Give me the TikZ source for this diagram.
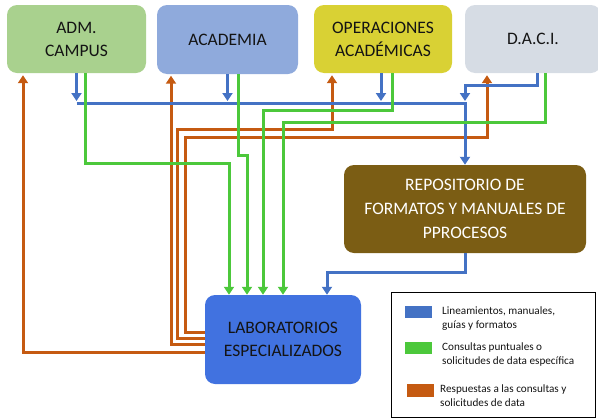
\documentclass[tikz,border=0pt]{standalone}
\usepackage{fontspec}
\setmainfont{Carlito}
\usetikzlibrary{arrows.meta,calc}
\definecolor{cadm}{HTML}{A9D18E}
\definecolor{caca}{HTML}{8FAADC}
\definecolor{cope}{HTML}{D9D134}
\definecolor{cdaci}{HTML}{D6DCE4}
\definecolor{crepo}{HTML}{7B5D14}
\definecolor{clab}{HTML}{4172E0}
\definecolor{lblue}{HTML}{4472C4}
\definecolor{lgreen}{HTML}{4CC83B}
\definecolor{lorange}{HTML}{C55A11}
\definecolor{txt}{HTML}{141414}
\tikzset{
  box/.style={rounded corners=10pt, align=center, text=txt, inner sep=0pt,
    font=\fontsize{17.5}{23}\selectfont},
  bl/.style={draw=lblue, line width=3pt},
  gr/.style={draw=lgreen, line width=3pt},
  orng/.style={draw=lorange, line width=3pt},
  tip/.style={-{Triangle[length=8pt,width=10pt]}},
  legtext/.style={anchor=west, align=left, inner sep=0pt, text=txt,
    font=\fontsize{11.2}{14}\selectfont},
}
\begin{document}
\begin{tikzpicture}[x=1pt,y=-1pt]
\useasboundingbox (0,0) rectangle (598,418);
% boxes
\node[box, fill=cadm, minimum width=139pt, minimum height=68pt] (adm) at (76.5,39) {ADM.\\CAMPUS};
\node[box, fill=caca, minimum width=141pt, minimum height=69pt] (aca) at (227.5,39.5) {ACADEMIA};
\node[box, fill=cope, minimum width=138pt, minimum height=68pt] (ope) at (383,39) {OPERACIONES\\ACADÉMICAS};
\node[box, fill=cdaci, minimum width=136pt, minimum height=68pt] (daci) at (533,39) {D.A.C.I.};
\node[box, fill=crepo, text=white, minimum width=242pt, minimum height=88pt,
  font=\fontsize{17.5}{24}\selectfont] (repo) at (465,209)
  {REPOSITORIO DE\\FORMATOS Y MANUALES DE\\PPROCESOS};
\node[box, fill=clab, minimum width=156pt, minimum height=89pt] (lab) at (283,339.5) {LABORATORIOS\\ESPECIALIZADOS};

% orange: responses
\draw[orng, tip] ($(lab.west)+(0,12.5)$) -| ($(adm.south)+(-53.5,2)$);
\draw[orng, tip] ($(lab.west)+(0,4.5)$) -| ($(aca.south)+(-56.5,1.5)$);
\draw[orng, tip] ($(lab.west)+(0,-1.5)$) -| (177,129) -| ($(ope.south)+(-51,2)$);
\draw[orng, tip] ($(lab.west)+(0,-7.5)$) -| (185,137) -| ($(daci.south)+(-46,2)$);

% blue: guidelines
\coordinate (bus1) at (76.5,103);
\coordinate (bus2) at (465,103);
\draw[bl] (bus1) -- (bus2) -- ($(repo.north)+(0,-8)$);
\draw[bl, tip] (bus2) -- (repo.north);
\draw[bl, tip, shorten >=2pt] (adm.south) -- (bus1);
\draw[bl, tip, shorten >=2pt] (aca.south) -- (aca.south |- bus1);
\draw[bl, tip, shorten >=2pt] ($(ope.south)+(-2,0)$) -- (381,103);
\draw[bl, tip, shorten >=2pt] ($(daci.south)+(4,0)$) |- (465,85) -- (bus2);
\draw[bl, tip] (repo.south) |- (327,272) -- ($(lab.north)+(44,0)$);

% green: queries
\draw[gr, tip] ($(adm.south)+(8.5,0)$) |- (229,163) -- ($(lab.north)+(-54,0)$);
\draw[gr, tip] ($(aca.south)+(10.5,0)$) |- (247,155) -- ($(lab.north)+(-36,0)$);
\draw[gr, tip] ($(ope.south)+(9,0)$) |- (263,110) -- ($(lab.north)+(-20,0)$);
\draw[gr, tip] ($(daci.south)+(12,0)$) |- (283,122) -- (lab.north);

% legend
\node[draw=black, line width=1pt, minimum width=204pt, minimum height=125pt, inner sep=0pt] (leg) at (493,355) {};
\node[fill=lblue, minimum width=27pt, minimum height=12pt, inner sep=0pt] (k1) at (418.5,312) {};
\node[fill=lgreen, minimum width=27pt, minimum height=12pt, inner sep=0pt] (k2) at (418.5,348) {};
\node[fill=lorange, minimum width=27pt, minimum height=13pt, inner sep=0pt] (k3) at (420.5,390.5) {};
\node[legtext] (t1) at (442,318.5) {Lineamientos, manuales,\\guías y formatos};
\node[legtext] (t2) at (442,355) {Consultas puntuales o\\solicitudes de data específica};
\node[legtext] (t3) at (440,396) {Respuestas a las consultas y\\solicitudes de data};
\end{tikzpicture}
\end{document}
